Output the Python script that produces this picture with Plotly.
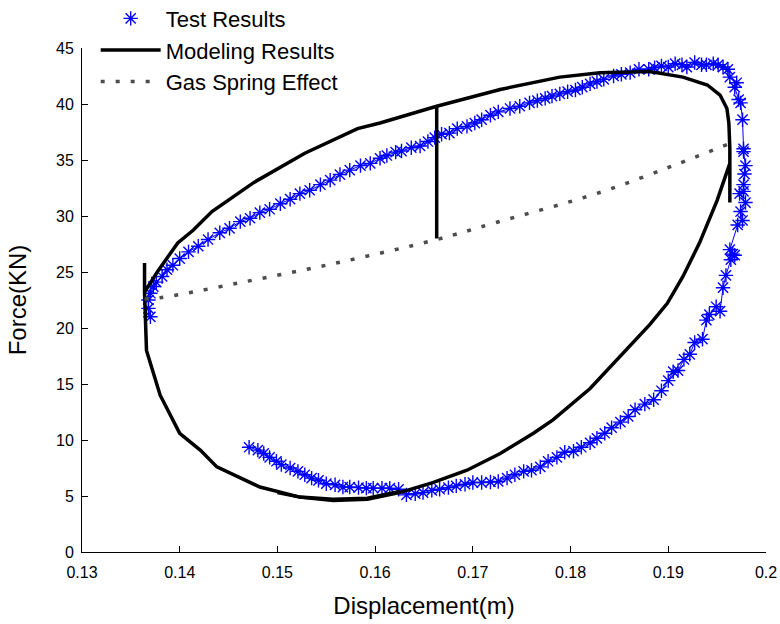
import plotly.graph_objects as go

# Test results (displacement m, force kN)
test_x = [0.1471, 0.1480, 0.1486, 0.1492, 0.1499, 0.1504, 0.1513, 0.1521, 0.1528, 0.1535,
          0.1542, 0.1550, 0.1559, 0.1567, 0.1574, 0.1583, 0.1591, 0.1598, 0.1607, 0.1615,
          0.1624, 0.1632, 0.1641, 0.1649, 0.1658, 0.1666, 0.1675, 0.1683, 0.1692, 0.1700,
          0.1709, 0.1718, 0.1726, 0.1735, 0.1743, 0.1752, 0.1760, 0.1769, 0.1777, 0.1786,
          0.1794, 0.1803, 0.1811, 0.1820, 0.1827, 0.1835, 0.1842, 0.1851, 0.1859, 0.1866,
          0.1876, 0.1885, 0.1893, 0.1900, 0.1905, 0.1910, 0.1916, 0.1922, 0.1927, 0.1935,
          0.1939, 0.1942, 0.1949, 0.1953, 0.1956, 0.1959, 0.1964, 0.1966, 0.1968, 0.1963,
          0.1971, 0.1976, 0.1974, 0.1979, 0.1973, 0.1977, 0.1977, 0.1978, 0.1979, 0.1977,
          0.1977, 0.1976, 0.1974, 0.1972, 0.1968, 0.1970, 0.1963, 0.1961, 0.1956, 0.1951,
          0.1946, 0.1939, 0.1934, 0.1927, 0.1919, 0.1914, 0.1907, 0.1900, 0.1893, 0.1886,
          0.1880, 0.1870, 0.1861, 0.1852, 0.1844, 0.1834, 0.1827, 0.1820, 0.1812, 0.1805,
          0.1797, 0.1789, 0.1781, 0.1774, 0.1766, 0.1758, 0.1748, 0.1738, 0.1726, 0.1718,
          0.1709, 0.1702, 0.1694, 0.1684, 0.1676, 0.1668, 0.1661, 0.1654, 0.1646, 0.1637,
          0.1627, 0.1621, 0.1612, 0.1605, 0.1595, 0.1585, 0.1574, 0.1564, 0.1554, 0.1544,
          0.1533, 0.1523, 0.1513, 0.1503, 0.1492, 0.1482, 0.1472, 0.1462, 0.1451, 0.1441,
          0.1429, 0.1419, 0.1409, 0.1400, 0.1393, 0.1387, 0.1382, 0.1376, 0.1373, 0.1370,
          0.1368, 0.1368, 0.1370]
test_y = [9.35, 9.1, 8.8, 8.45, 8.1, 7.8, 7.5, 7.2, 6.9, 6.6,
          6.4, 6.1, 6.0, 5.8, 5.8, 5.75, 5.7, 5.7, 5.7, 5.7,
          5.6, 5.1, 5.2, 5.3, 5.5, 5.6, 5.75, 5.9, 6.05, 6.2,
          6.2, 6.25, 6.3, 6.6, 6.9, 7.2, 7.3, 7.6, 8.1, 8.45,
          8.9, 9.0, 9.35, 9.75, 10.15, 10.6, 11.1, 11.6, 12.1, 12.7,
          13.2, 13.6, 14.4, 15.3, 16.1, 16.2, 17.2, 17.65, 18.7, 19.0,
          20.7, 21.2, 21.9, 21.5, 23.6, 24.7, 26.1, 26.6, 26.5, 27.0,
          29.2, 29.6, 30.4, 31.2, 32.0, 32.2, 32.8, 33.75, 34.5, 35.75,
          36.0, 38.6, 40.1, 40.4, 41.5, 41.9, 42.4, 43.1, 43.3, 43.5,
          43.6, 43.5, 43.5, 43.7, 43.3, 43.5, 43.6, 43.3, 43.4, 43.25,
          43.1, 43.1, 42.8, 42.65, 42.5, 42.2, 42.0, 41.8, 41.5, 41.25,
          41.1, 40.9, 40.7, 40.5, 40.3, 40.1, 39.8, 39.6, 39.3, 39.0,
          38.6, 38.3, 38.0, 37.8, 37.4, 37.3, 37.0, 36.65, 36.25, 36.1,
          35.8, 35.7, 35.4, 35.15, 34.7, 34.5, 34.1, 33.7, 33.2, 32.8,
          32.3, 32.0, 31.5, 31.1, 30.6, 30.3, 29.8, 29.5, 28.9, 28.5,
          27.9, 27.3, 26.8, 26.2, 25.6, 25.2, 24.6, 24.1, 23.7, 23.1,
          22.5, 21.75, 21.0]

# Modeling results (None separates pen-up segments)
model_x = [0.1663, 0.1663, 0.1728, 0.1789, 0.1830, 0.1881, 0.1915, 0.1940, 0.1953, 0.1960,
           0.1962, 0.1963, 0.1963, 0.1963, 0.1950, 0.1932, 0.1915, 0.1899, 0.1881, 0.1852,
           0.1820, 0.1782, 0.1762, 0.1728, 0.1694, 0.1659, 0.1625, 0.1592, 0.1557, 0.1523,
           0.1482, 0.1438, 0.1421, 0.1400, 0.1380, 0.1366, 0.1364, 0.1364, 0.1364, 0.1377,
           0.1398, 0.1414, 0.1433, 0.1476, 0.1528, 0.1582, 0.1605, 0.1663, 0.1728,
           None, 0.1500, 0.1523, 0.1557, 0.1592, 0.1625]
model_y = [28.0, 39.8, 41.3, 42.4, 42.8, 42.9, 42.4, 41.7, 40.8, 39.6,
           38.3, 36.0, 31.2, 34.7, 31.4, 27.6, 24.6, 22.2, 20.3, 17.6,
           14.6, 11.8, 10.6, 8.8, 7.3, 6.2, 5.3, 4.7, 4.6, 4.9,
           5.8, 7.6, 9.1, 10.6, 14.0, 18.0, 23.2, 25.8, 23.2, 25.0,
           27.6, 28.75, 30.4, 33.0, 35.6, 37.8, 38.3, 39.8, 41.3,
           None, 5.3, 4.9, 4.7, 4.8, 5.4]

# Gas spring effect
gas_x = [0.1364, 0.1380, 0.1459, 0.1560, 0.1663, 0.1723, 0.1830, 0.1905, 0.1961]
gas_y = [22.6, 22.7, 24.0, 25.8, 27.9, 29.4, 32.1, 34.5, 36.4]

x_ticks = [0.13, 0.14, 0.15, 0.16, 0.17, 0.18, 0.19, 0.20]
x_tick_text = ["0.13", "0.14", "0.15", "0.16", "0.17", "0.18", "0.19", "0.2"]
y_ticks = [0, 5, 10, 15, 20, 25, 30, 35, 40, 45]

FONT = "Liberation Sans, Arial, sans-serif"
BLUE = "#0000ff"

fig = go.Figure()

fig.add_trace(go.Scatter(x=test_x, y=test_y, mode="lines",
                         line=dict(color=BLUE, width=1), showlegend=False, hoverinfo="skip"))
fig.add_trace(go.Scatter(x=test_x, y=test_y, mode="markers", name="Test Results",
                         marker=dict(symbol="asterisk-open", size=12,
                                     color=BLUE, line=dict(color="rgba(0,0,255,0.9)", width=1.4))))
fig.add_trace(go.Scatter(x=model_x, y=model_y, mode="lines", name="Modeling Results",
                         line=dict(color="black", width=3.5), connectgaps=False))
fig.add_trace(go.Scatter(x=gas_x, y=gas_y, mode="lines", name="Gas Spring Effect",
                         line=dict(color="#4d4d4d", width=3.5, dash="4px,11px", shape="spline")))

axis_common = dict(showline=True, linecolor="black", linewidth=1, ticks="inside",
                   ticklen=6, tickcolor="black", tickwidth=1, showgrid=False,
                   zeroline=False, mirror=False, automargin=False,
                   tickfont=dict(family=FONT, size=16, color="black"))

fig.update_layout(
    width=780, height=624,
    margin=dict(l=82, r=14, t=48, b=72, autoexpand=False),
    plot_bgcolor="white", paper_bgcolor="white",
    font=dict(family=FONT, color="black"),
    xaxis=dict(range=[0.13, 0.2], tickvals=x_ticks, ticktext=x_tick_text,
               ticklabelstandoff=6,
               title=dict(text="Displacement(m)", font=dict(family=FONT, size=24), standoff=16),
               **axis_common),
    yaxis=dict(range=[0, 45], tickvals=y_ticks, ticklabelstandoff=4,
               title=dict(text="Force(KN)", font=dict(family=FONT, size=24), standoff=22),
               **axis_common),
    legend=dict(x=0.02, y=1.1, xanchor="left", yanchor="top",
                bgcolor="rgba(0,0,0,0)", borderwidth=0,
                font=dict(family=FONT, size=22, color="black"),
                itemwidth=60, tracegroupgap=0),
    showlegend=True,
)

fig.write_html("out.html")
